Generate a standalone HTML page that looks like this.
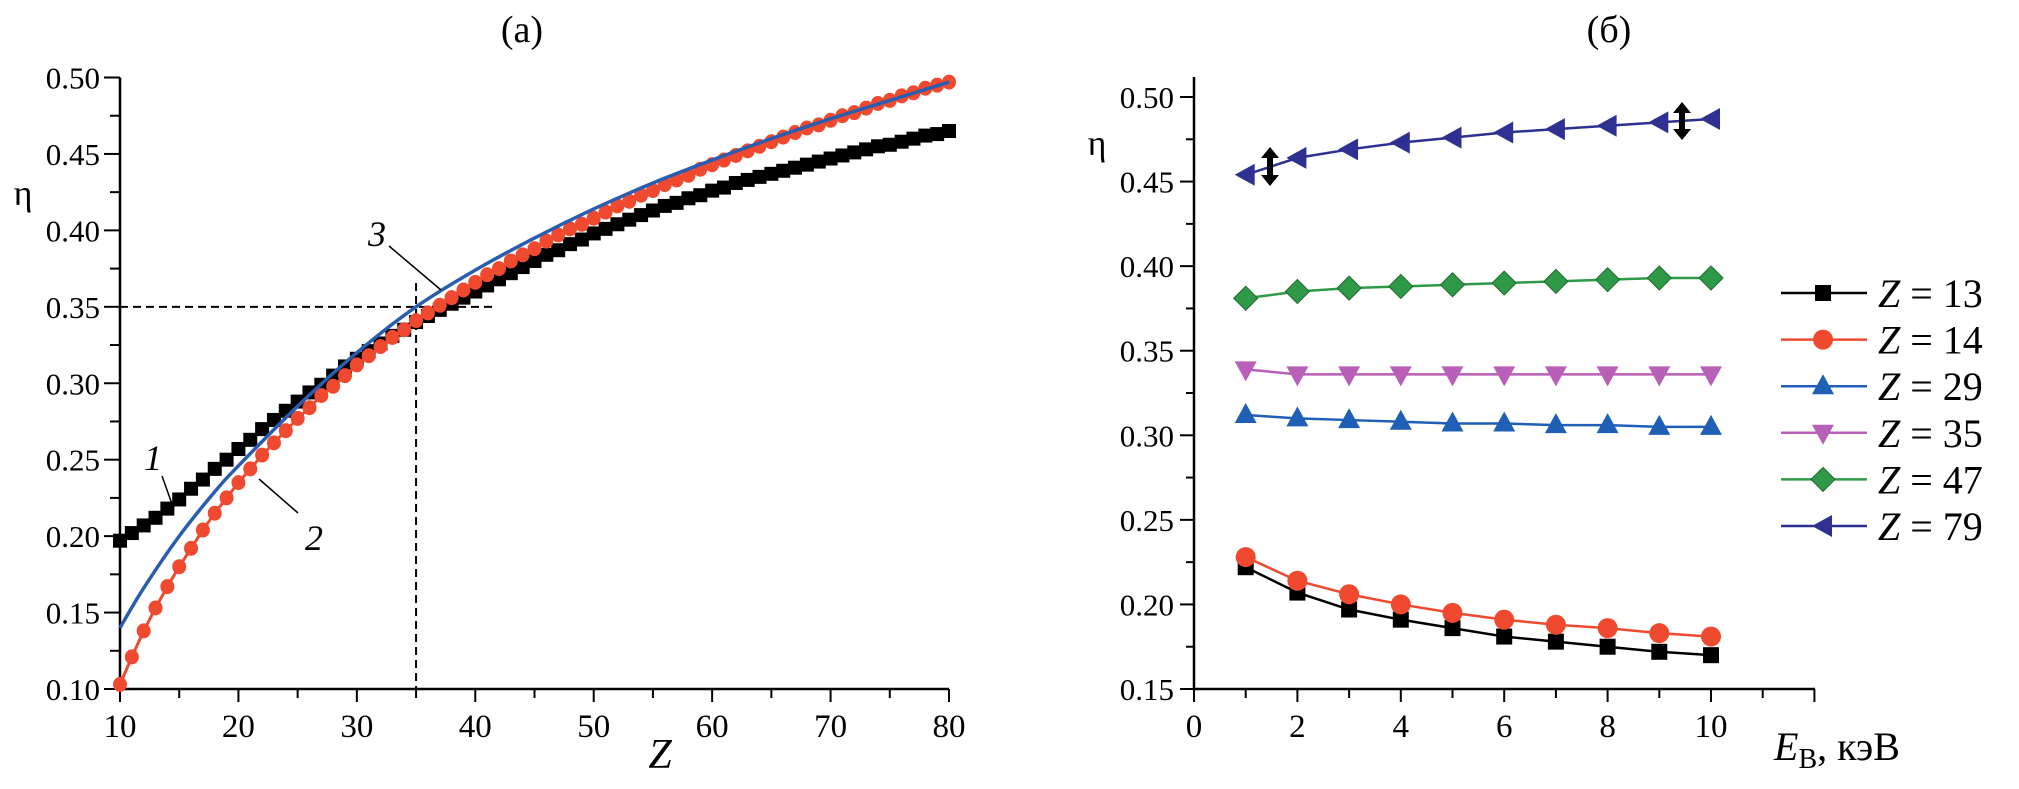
<!DOCTYPE html>
<html><head><meta charset="utf-8"><style>
html,body{margin:0;padding:0;background:#fff;}
svg{display:block;font-family:"Liberation Serif",serif;}
</style></head><body>
<svg id="chart" width="2019" height="789" viewBox="0 0 2019 789" xmlns="http://www.w3.org/2000/svg"></svg>
<script>
// ---------- Panel (a) data ----------
const zValues = [];
for (let z = 10; z <= 80; z++) zValues.push(z);
const curve1Eta = [0.197,0.202,0.207,0.212,0.218,0.224,0.231,0.237,0.244,0.250,0.257,0.263,0.270,0.276,0.282,0.288,0.294,0.299,0.305,0.311,0.316,0.321,0.326,0.331,0.335,0.340,0.344,0.348,0.352,0.356,0.360,0.364,0.368,0.372,0.376,0.380,0.384,0.387,0.391,0.394,0.398,0.401,0.404,0.407,0.410,0.413,0.416,0.418,0.421,0.423,0.426,0.428,0.431,0.433,0.435,0.437,0.439,0.441,0.443,0.445,0.447,0.449,0.451,0.453,0.455,0.456,0.458,0.460,0.462,0.463,0.465];
const curve2Eta = [0.103,0.121,0.138,0.153,0.167,0.180,0.192,0.204,0.215,0.225,0.235,0.244,0.253,0.261,0.269,0.277,0.284,0.292,0.298,0.305,0.312,0.318,0.324,0.330,0.335,0.341,0.346,0.351,0.356,0.361,0.366,0.371,0.375,0.380,0.384,0.388,0.393,0.397,0.401,0.404,0.408,0.412,0.416,0.419,0.423,0.426,0.430,0.433,0.436,0.440,0.443,0.446,0.449,0.452,0.455,0.458,0.461,0.464,0.467,0.469,0.472,0.475,0.477,0.480,0.483,0.485,0.488,0.490,0.493,0.495,0.497];
const curve3Z = [10,12,15,18,20,25,30,35,40,45,50,55,60,65,70,75,80];
const curve3Eta = [0.140,0.166,0.200,0.229,0.246,0.285,0.320,0.350,0.374,0.395,0.414,0.431,0.446,0.460,0.473,0.485,0.497];
const aXTicks = [10,20,30,40,50,60,70,80];
const aYTicks = [0.10,0.15,0.20,0.25,0.30,0.35,0.40,0.45,0.50];

// ---------- Panel (б) data ----------
const energies = [1,2,3,4,5,6,7,8,9,10];
const z13Eta = [0.222,0.207,0.197,0.191,0.186,0.181,0.178,0.175,0.172,0.170];
const z14Eta = [0.228,0.214,0.206,0.200,0.195,0.191,0.188,0.186,0.183,0.181];
const z29Eta = [0.312,0.310,0.309,0.308,0.307,0.307,0.306,0.306,0.305,0.305];
const z35Eta = [0.339,0.336,0.336,0.336,0.336,0.336,0.336,0.336,0.336,0.336];
const z47Eta = [0.381,0.385,0.387,0.388,0.389,0.390,0.391,0.392,0.393,0.393];
const z79Eta = [0.454,0.464,0.469,0.473,0.476,0.479,0.481,0.483,0.485,0.487];
const seriesLabels = ["13","14","29","35","47","79"];
const bXTicks = [0,2,4,6,8,10];
const bYTicks = [0.15,0.20,0.25,0.30,0.35,0.40,0.45,0.50];

const NS = "http://www.w3.org/2000/svg";
const svg = document.getElementById("chart");
function mk(tag, attrs, parent) {
  const e = document.createElementNS(NS, tag);
  for (const k in attrs) e.setAttribute(k, attrs[k]);
  (parent || svg).appendChild(e);
  return e;
}
const ax = z => 120 + (z - 10) * (949 - 120) / 70;
const ay = v => 689 - (v - 0.10) * (689 - 77.5) / 0.40;
const bx = e => 1194 + e * 51.7;
const by = v => 689 - (v - 0.15) * (689 - 97) / 0.35;

function smoothPath(pts) {
  let d = `M${pts[0][0]},${pts[0][1]}`;
  for (let i = 0; i < pts.length - 1; i++) {
    const p0 = pts[Math.max(0, i-1)], p1 = pts[i], p2 = pts[i+1], p3 = pts[Math.min(pts.length-1, i+2)];
    const c1x = p1[0] + (p2[0]-p0[0])/6, c1y = p1[1] + (p2[1]-p0[1])/6;
    const c2x = p2[0] - (p3[0]-p1[0])/6, c2y = p2[1] - (p3[1]-p1[1])/6;
    d += ` C${c1x},${c1y} ${c2x},${c2y} ${p2[0]},${p2[1]}`;
  }
  return d;
}

// ---------- Panel (a) ----------
const gA = mk("g", {});


let t = mk("text", {x:522, y:42, "font-size":38, "text-anchor":"middle"}, gA);
t.textContent = "(а)";



let d1 = mk("line", {x1:120, y1:ay(0.35), x2:492, y2:ay(0.35), stroke:"#000", "stroke-width":2, "stroke-dasharray":"8,5"}, gA);


let d2 = mk("line", {x1:ax(35), y1:283, x2:ax(35), y2:689, stroke:"#000", "stroke-width":2, "stroke-dasharray":"8,5"}, gA);



let axA = mk("path", {d:`M120 ${ay(0.5)} V689 H949`, fill:"none", stroke:"#000", "stroke-width":2.5}, gA);


for (let k = 0; k <= 16; k++) {
  const v = 0.10 + k * 0.025;
  mk("line", {x1: k % 2 === 0 ? 104 : 110, y1: ay(v), x2: 120, y2: ay(v), stroke:"#000", "stroke-width":2}, gA);
}
aYTicks.forEach(v => {
  const l = mk("text", {x:100, y:ay(v)+11, "font-size":31, "text-anchor":"end"}, gA);
  l.textContent = v.toFixed(2);
  
  
});
for (let z = 10; z <= 80; z += 5) {
  mk("line", {x1:ax(z), y1:689, x2:ax(z), y2: z % 10 === 0 ? 702 : 698, stroke:"#000", "stroke-width":2}, gA);
}
aXTicks.forEach(z => {
  const l = mk("text", {x:ax(z), y:737, "font-size":33, "text-anchor":"middle"}, gA);
  l.textContent = z;
  
  
});
t = mk("text", {x:23, y:205, "font-size":36, "text-anchor":"middle"}, gA);
t.textContent = "η";


t = mk("text", {x:660, y:768, "font-size":42, "font-style":"italic", "text-anchor":"middle"}, gA);
t.textContent = "Z";



let p = mk("polyline", {points: zValues.map((z,i)=>`${ax(z)},${ay(curve1Eta[i])}`).join(" "), fill:"none", stroke:"#000", "stroke-width":3}, gA);


zValues.forEach((z,i) => {
  const r = mk("rect", {x:ax(z)-7, y:ay(curve1Eta[i])-7, width:14, height:14, fill:"#000"}, gA);
  
  
});
p = mk("polyline", {points: zValues.map((z,i)=>`${ax(z)},${ay(curve2Eta[i])}`).join(" "), fill:"none", stroke:"#EF4A30", "stroke-width":3}, gA);


zValues.forEach((z,i) => {
  const c = mk("ellipse", {cx:ax(z), cy:ay(curve2Eta[i]), rx:7, ry:7.5, fill:"#EF4A30"}, gA);
  
  
});
p = mk("path", {d: smoothPath(curve3Z.map((z,i)=>[ax(z), ay(curve3Eta[i])])), fill:"none", stroke:"#2A5DB0", "stroke-width":3.5, "stroke-linejoin":"round"}, gA);



[["1",153,470,162,476,172,504],["2",314,550,259,479,298,513],["3",377,246,389,246,441,290]].forEach(a => {
  const lt = mk("text", {x:a[1], y:a[2], "font-size":36, "font-style":"italic", "text-anchor":"middle"}, gA);
  lt.textContent = a[0];
  
  
  const ll = mk("line", {x1:a[3], y1:a[4], x2:a[5], y2:a[6], stroke:"#000", "stroke-width":1.5}, gA);
  
  
});

// ---------- Panel (б) ----------
const gB = mk("g", {});


t = mk("text", {x:1609, y:42, "font-size":38, "text-anchor":"middle"}, gB);
t.textContent = "(б)";


let axB = mk("path", {d:`M1194 ${by(0.5)-20} V689 H1815`, fill:"none", stroke:"#000", "stroke-width":2.5}, gB);


for (let k = 0; k <= 14; k++) {
  const v = 0.15 + k * 0.025;
  mk("line", {x1: k % 2 === 0 ? 1180 : 1186, y1: by(v), x2: 1194, y2: by(v), stroke:"#000", "stroke-width":2}, gB);
}
bYTicks.forEach(v => {
  const l = mk("text", {x:1174, y:by(v)+11, "font-size":31, "text-anchor":"end"}, gB);
  l.textContent = v.toFixed(2);
  
  
});
for (let e = 0; e <= 12; e++) {
  mk("line", {x1:bx(e), y1:689, x2:bx(e), y2: e % 2 === 0 ? 702 : 698, stroke:"#000", "stroke-width":2}, gB);
}
bXTicks.forEach(e => {
  const l = mk("text", {x:bx(e), y:737, "font-size":33, "text-anchor":"middle"}, gB);
  l.textContent = e;
  
  
});
t = mk("text", {x:1097, y:155, "font-size":36, "text-anchor":"middle"}, gB);
t.textContent = "η";


t = mk("text", {x:1774, y:760, "font-size":40}, gB);
t.innerHTML = '<tspan font-style="italic">E</tspan><tspan font-size="28" dy="8">В</tspan><tspan dy="-8">, кэВ</tspan>';



function marker(kind, x, y, color, g) {
  let m;
  if (kind === "square") m = mk("rect", {x:x-8, y:y-8, width:16, height:16, fill:color}, g);
  else if (kind === "circle") m = mk("circle", {cx:x, cy:y, r:10, fill:color}, g);
  else if (kind === "up") m = mk("polygon", {points:`${x},${y-12} ${x-11},${y+8} ${x+11},${y+8}`, fill:color}, g);
  else if (kind === "down") m = mk("polygon", {points:`${x},${y+12} ${x-11},${y-8} ${x+11},${y-8}`, fill:color}, g);
  else if (kind === "diamond") m = mk("polygon", {points:`${x},${y-12} ${x+12},${y} ${x},${y+12} ${x-12},${y}`, fill:color, stroke:"#1f6b30", "stroke-width":1}, g);
  else m = mk("polygon", {points:`${x-11},${y} ${x+9},${y-11} ${x+9},${y+11}`, fill:color}, g);
  return m;
}
const bSeries = [
  [z13Eta, "square", "#000000", "#000000"],
  [z14Eta, "circle", "#EF4A30", "#EF4A30"],
  [z29Eta, "up", "#1F5FB5", "#1F5FB5"],
  [z35Eta, "down", "#B85FB8", "#B85FB8"],
  [z47Eta, "diamond", "#2E9A48", "#2E9A48"],
  [z79Eta, "left", "#2E3192", "#2E3192"]
];
bSeries.forEach((s, si) => {
  const g = mk("g", {}, gB);
  
  
  const pl = mk("polyline", {points: energies.map((e,i)=>`${bx(e)},${by(s[0][i])}`).join(" "), fill:"none", stroke:s[3], "stroke-width":2.5}, g);
  
  
  energies.forEach((e,i) => {
    const m = marker(s[1], bx(e), by(s[0][i]), s[2], g);
    
    
  });
  const ly = 293 + si * 46.6;
  const lg = mk("g", {}, gB);
  
  
  mk("line", {x1:1781, y1:ly, x2:1867, y2:ly, stroke:s[3], "stroke-width":2.5}, lg);
  marker(s[1], 1823, ly, s[2], lg);
  const lt = mk("text", {x:1878, y:ly+14, "font-size":40}, lg);
  lt.innerHTML = '<tspan font-style="italic">Z</tspan> = ' + seriesLabels[si];
});

[[1270,147,186],[1682,102,140]].forEach(a => {
  const g = mk("g", {}, gB);
  
  
  mk("rect", {x:a[0]-3, y:a[1]+8, width:6, height:a[2]-a[1]-16, fill:"#000"}, g);
  mk("polygon", {points:`${a[0]},${a[1]} ${a[0]-9},${a[1]+11} ${a[0]+9},${a[1]+11}`, fill:"#000"}, g);
  mk("polygon", {points:`${a[0]},${a[2]} ${a[0]-9},${a[2]-11} ${a[0]+9},${a[2]-11}`, fill:"#000"}, g);
});
</script>
</body></html>
